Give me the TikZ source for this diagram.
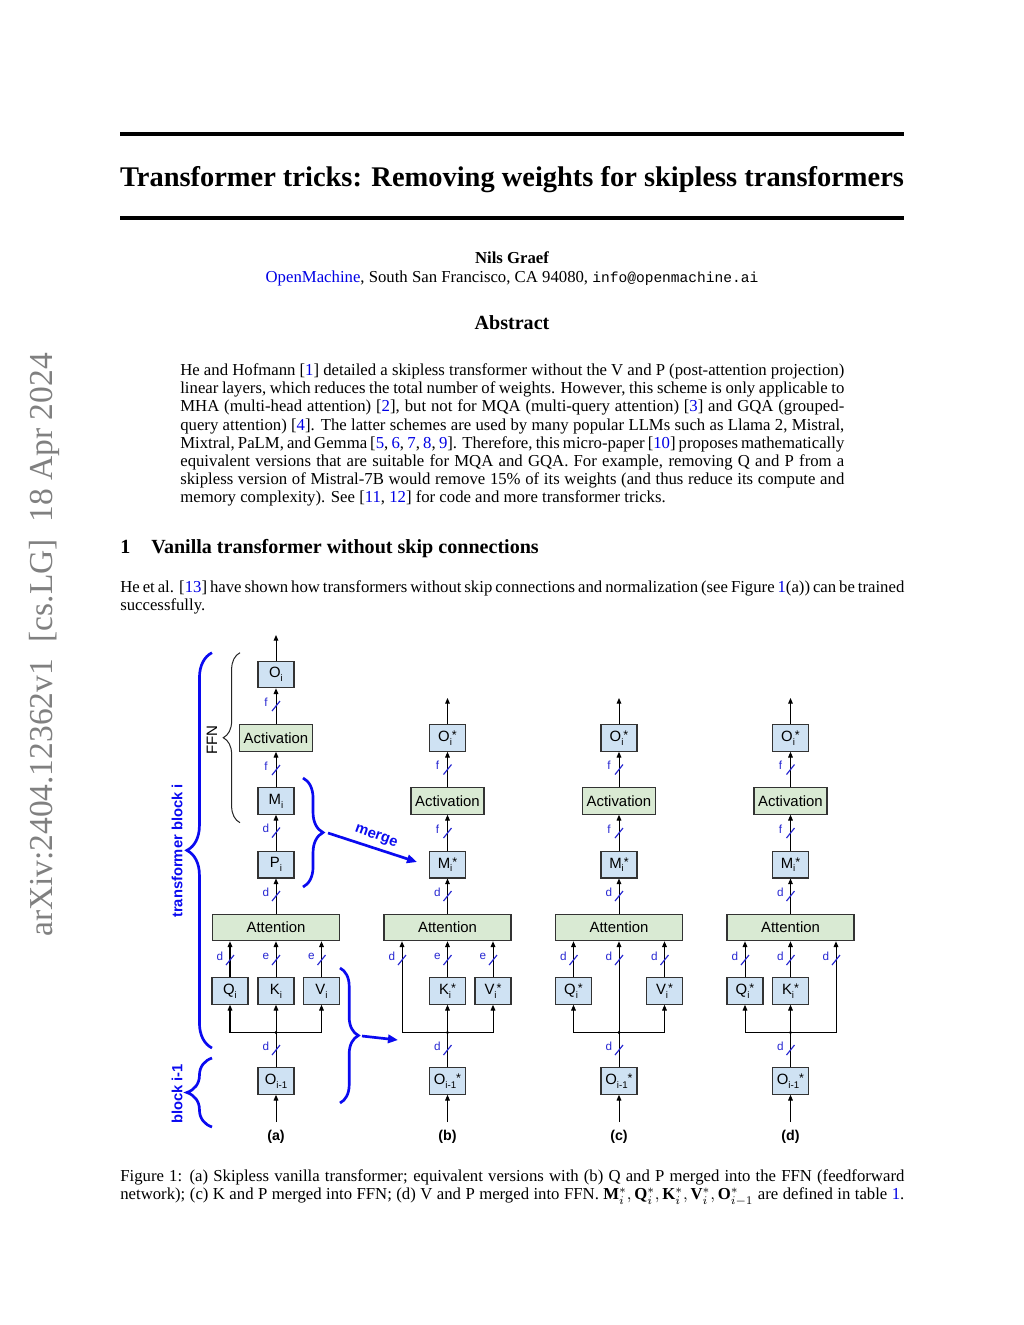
\documentclass[tikz,border=0pt]{standalone}
\usepackage{fontspec}
\setmainfont{Liberation Serif}
\setmonofont{Liberation Mono}
\newfontfamily\arialf{Liberation Sans}
\usetikzlibrary{arrows.meta,decorations.pathreplacing}
\definecolor{boxblue}{RGB}{207,226,243}
\definecolor{boxgreen}{RGB}{217,234,211}
\definecolor{linkblue}{RGB}{0,0,230}
\definecolor{busblue}{RGB}{40,40,210}
\definecolor{bracblue}{RGB}{10,10,240}
\newcommand\cbl[1]{\textcolor{linkblue}{#1}}
\newcommand\sbi[1]{\raisebox{-0.5ex}{\fontsize{5.8}{6}\selectfont #1}}
\newcommand\spx{\raisebox{0.25ex}{\fontsize{7.5}{8}\selectfont *}}
\newcommand\jabs[1]{\hbox to 396.85pt{#1}}
\newcommand\jbody[1]{\hbox to 468.6pt{#1}}
\begin{document}
\begin{tikzpicture}[x=0.59766pt,y=-0.59766pt,
  bx/.style={draw=black!80,line width=0.7pt,fill=boxblue,minimum width=21.5pt,minimum height=15.8pt,inner sep=0pt,font=\arialf\fontsize{8.9}{10}\selectfont},
  gx/.style={bx,fill=boxgreen},
  actw/.style={minimum width=43.6pt},
  attw/.style={minimum width=75.9pt},
  arr/.style={line width=0.6pt,-{Triangle[length=3.4pt,width=2.8pt]}},
  ln/.style={line width=0.6pt},
  bbrace/.style={decorate,decoration={brace,amplitude=#1},draw=bracblue,line width=1.6pt},
  kbrace/.style={decorate,decoration={brace,amplitude=#1},draw=black!85,line width=0.6pt},
  barrow/.style={draw=bracblue,line width=1.6pt,-{Triangle[length=6pt,width=5pt]}},
  blbl/.style={text=bracblue,font=\arialf\bfseries\fontsize{8.8}{10}\selectfont,inner sep=0pt},
  sublbl/.style={font=\arialf\bfseries\fontsize{8.5}{10}\selectfont,inner sep=0pt},
  txt/.style={anchor=base west,inner sep=0pt},
  bus/.pic={\draw[busblue,line width=0.7pt] (-4,5) -- (4,-5);
            \node[text=busblue,font=\arialf\fontsize{7}{8}\selectfont,inner sep=0pt] at (-10,-4) {#1};}
]
\useasboundingbox (0,0) rectangle (1024,1325);
\fill[white] (0,0) rectangle (1024,1325);

% ---------- page text ----------
\node[rotate=90,text=black!50,font=\fontsize{20}{24}\selectfont,inner sep=0pt] (arx) at (44,645) {arXiv:2404.12362v1\hspace{0.5em}[cs.LG]\hspace{0.5em}18 Apr 2024};

\draw[line width=2.4pt] (120,134) -- (904,134);
\node[anchor=base,inner sep=0pt,font=\fontsize{17}{20}\selectfont\bfseries] (title) at (512,186.5) {Transformer tricks: Removing weights for skipless transformers};
\draw[line width=2.4pt] (120,218) -- (904,218);

\node[anchor=base,inner sep=0pt,font=\bfseries] (auth) at (512,263.5) {Nils Graef};
\node[anchor=base,inner sep=0pt] (affil) at (512,282.5) {\cbl{OpenMachine}, South San Francisco, CA 94080, {\fontsize{8.7}{10}\selectfont\ttfamily info@openmachine.ai}};
\node[anchor=base,inner sep=0pt,font=\fontsize{12}{14}\selectfont\bfseries] (abst) at (512,329) {Abstract};

\node[txt] (ab1) at (180,375.5) {\jabs{He and Hofmann [\cbl{1}] detailed a skipless transformer without the V and P (post-attention projection)}};
\node[txt] (ab2) at (180,393.7) {\jabs{linear layers, which reduces the total number of weights. However, this scheme is only applicable to}};
\node[txt] (ab3) at (180,411.9) {\jabs{MHA (multi-head attention) [\cbl{2}], but not for MQA (multi-query attention) [\cbl{3}] and GQA (grouped-}};
\node[txt] (ab4) at (180,430.1) {\jabs{query attention) [\cbl{4}]. The latter schemes are used by many popular LLMs such as Llama 2, Mistral,}};
\node[txt] (ab5) at (180,448.3) {\jabs{Mixtral, PaLM, and Gemma [\cbl{5}, \cbl{6}, \cbl{7}, \cbl{8}, \cbl{9}]. Therefore, this micro-paper [\cbl{10}] proposes mathematically}};
\node[txt] (ab6) at (180,466.5) {\jabs{equivalent versions that are suitable for MQA and GQA. For example, removing Q and P from a}};
\node[txt] (ab7) at (180,484.7) {\jabs{skipless version of Mistral-7B would remove 15\% of its weights (and thus reduce its compute and}};
\node[txt] (ab8) at (180,502.9) {memory complexity). See [\cbl{11}, \cbl{12}] for code and more transformer tricks.};

\node[txt,font=\fontsize{12}{14}\selectfont\bfseries] (secn) at (120,553) {1};
\node[txt,font=\fontsize{12}{14}\selectfont\bfseries] (sect) at (151,553) {Vanilla transformer without skip connections};

\node[txt] (bd1) at (120,592.5) {\jbody{He et al. [\cbl{13}] have shown how transformers without skip connections and normalization (see Figure \cbl{1}(a)) can be trained}};
\node[txt] (bd2) at (120,610.7) {successfully.};

\node[txt] (cap1) at (120,1181.5) {\jbody{Figure 1: (a) Skipless vanilla transformer; equivalent versions with (b) Q and P merged into the FFN (feedforward}};
\node[txt] (cap2) at (120,1199.7) {\jbody{network); (c) K and P merged into FFN; (d) V and P merged into FFN. \smash{$\mathbf{M}_i^*, \mathbf{Q}_i^*, \mathbf{K}_i^*, \mathbf{V}_i^*, \mathbf{O}_{i-1}^*$} are defined in table \cbl{1}.}};

% ---------- column (a) ----------
\node[bx] (Oa) at (276,674.5) {O\sbi{i}};
\node[gx,actw] (Acta) at (276,738) {Activation};
\node[bx] (Ma) at (276,801) {M\sbi{i}};
\node[bx] (Pa) at (276,864.7) {P\sbi{i}};
\node[gx,attw] (Atta) at (276,927.5) {Attention};
\node[bx] (Qa) at (230,991) {Q\sbi{i}};
\node[bx] (Ka) at (276,991) {K\sbi{i}};
\node[bx] (Va) at (321.5,991) {V\sbi{i}};
\node[bx] (Oma) at (276,1081) {O\sbi{i-1}};
\coordinate (topa) at (276,635);
\coordinate (bota) at (276,1122);
\coordinate (ja) at (276,1032.5);
\draw[arr] (Oa) -- (topa);
\draw[arr] (Acta) -- (Oa);
\draw[arr] (Ma) -- (Acta);
\draw[arr] (Pa) -- (Ma);
\draw[arr] (Atta) -- (Pa);
\draw[arr] (Qa) -- (Qa |- Atta.south);
\draw[arr] (Ka) -- (Atta);
\draw[arr] (Va) -- (Va |- Atta.south);
\draw[arr] (bota) -- (Oma);
\draw[ln] (Oma) -- (ja);
\draw[arr] (ja) -- (Ka);
\draw[arr] (ja) -| (Qa);
\draw[arr] (ja) -| (Va);
\fill (ja) circle[radius=1pt];
\pic at (276,706) {bus=f};
\pic at (276,770) {bus=f};
\pic at (276,832.5) {bus=d};
\pic at (276,896) {bus=d};
\pic at (230,960) {bus=d};
\pic at (276,960) {bus=e};
\pic at (321.5,960) {bus=e};
\pic at (276,1050) {bus=d};
\node[sublbl] (la) at (276,1137) {(a)};

% ---------- column (b) ----------
\node[bx] (Ob) at (447.5,738) {O\sbi{i}\spx};
\node[gx,actw] (Actb) at (447.5,801) {Activation};
\node[bx] (Mb) at (447.5,864.7) {M\sbi{i}\spx};
\node[gx,attw] (Attb) at (447.5,927.5) {Attention};
\node[bx] (Kb) at (447.5,991) {K\sbi{i}\spx};
\node[bx] (Vb) at (493,991) {V\sbi{i}\spx};
\node[bx] (Omb) at (447.5,1081) {O\sbi{i-1}\spx};
\coordinate (topb) at (447.5,698);
\coordinate (botb) at (447.5,1122);
\coordinate (jb) at (447.5,1032.5);
\coordinate (jbL) at (402,1032.5);
\draw[arr] (Ob) -- (topb);
\draw[arr] (Actb) -- (Ob);
\draw[arr] (Mb) -- (Actb);
\draw[arr] (Attb) -- (Mb);
\draw[arr] (Kb) -- (Attb);
\draw[arr] (Vb) -- (Vb |- Attb.south);
\draw[arr] (botb) -- (Omb);
\draw[ln] (Omb) -- (jb);
\draw[arr] (jb) -- (Kb);
\draw[arr] (jb) -| (Vb);
\draw[arr] (jb) -- (jbL) -- (jbL |- Attb.south);
\fill (jb) circle[radius=1pt];
\pic at (447.5,769.5) {bus=f};
\pic at (447.5,833) {bus=f};
\pic at (447.5,896) {bus=d};
\pic at (402,960) {bus=d};
\pic at (447.5,960) {bus=e};
\pic at (493,960) {bus=e};
\pic at (447.5,1050) {bus=d};
\node[sublbl] (lb) at (447.5,1137) {(b)};

% ---------- column (c) ----------
\node[bx] (Oc) at (619,738) {O\sbi{i}\spx};
\node[gx,actw] (Actc) at (619,801) {Activation};
\node[bx] (Mc) at (619,864.7) {M\sbi{i}\spx};
\node[gx,attw] (Attc) at (619,927.5) {Attention};
\node[bx] (Qc) at (573.5,991) {Q\sbi{i}\spx};
\node[bx] (Vc) at (664.5,991) {V\sbi{i}\spx};
\node[bx] (Omc) at (619,1081) {O\sbi{i-1}\spx};
\coordinate (topc) at (619,698);
\coordinate (botc) at (619,1122);
\coordinate (jc) at (619,1032.5);
\draw[arr] (Oc) -- (topc);
\draw[arr] (Actc) -- (Oc);
\draw[arr] (Mc) -- (Actc);
\draw[arr] (Attc) -- (Mc);
\draw[arr] (Qc) -- (Qc |- Attc.south);
\draw[arr] (Vc) -- (Vc |- Attc.south);
\draw[arr] (botc) -- (Omc);
\draw[ln] (Omc) -- (jc);
\draw[arr] (jc) -- (Attc);
\draw[arr] (jc) -| (Qc);
\draw[arr] (jc) -| (Vc);
\fill (jc) circle[radius=1pt];
\pic at (619,769.5) {bus=f};
\pic at (619,833) {bus=f};
\pic at (619,896) {bus=d};
\pic at (573.5,960) {bus=d};
\pic at (619,960) {bus=d};
\pic at (664.5,960) {bus=d};
\pic at (619,1050) {bus=d};
\node[sublbl] (lc) at (619,1137) {(c)};

% ---------- column (d) ----------
\node[bx] (Od) at (790.5,738) {O\sbi{i}\spx};
\node[gx,actw] (Actd) at (790.5,801) {Activation};
\node[bx] (Md) at (790.5,864.7) {M\sbi{i}\spx};
\node[gx,attw] (Attd) at (790.5,927.5) {Attention};
\node[bx] (Qd) at (745,991) {Q\sbi{i}\spx};
\node[bx] (Kd) at (790.5,991) {K\sbi{i}\spx};
\node[bx] (Omd) at (790.5,1081) {O\sbi{i-1}\spx};
\coordinate (topd) at (790.5,698);
\coordinate (botd) at (790.5,1122);
\coordinate (jd) at (790.5,1032.5);
\coordinate (jdR) at (836,1032.5);
\draw[arr] (Od) -- (topd);
\draw[arr] (Actd) -- (Od);
\draw[arr] (Md) -- (Actd);
\draw[arr] (Attd) -- (Md);
\draw[arr] (Qd) -- (Qd |- Attd.south);
\draw[arr] (Kd) -- (Attd);
\draw[arr] (botd) -- (Omd);
\draw[ln] (Omd) -- (jd);
\draw[arr] (jd) -- (Kd);
\draw[arr] (jd) -| (Qd);
\draw[arr] (jd) -- (jdR) -- (jdR |- Attd.south);
\fill (jd) circle[radius=1pt];
\pic at (790.5,769.5) {bus=f};
\pic at (790.5,833) {bus=f};
\pic at (790.5,896) {bus=d};
\pic at (745,960) {bus=d};
\pic at (790.5,960) {bus=d};
\pic at (836,960) {bus=d};
\pic at (790.5,1050) {bus=d};
\node[sublbl] (ld) at (790.5,1137) {(d)};

% ---------- braces and labels ----------
\draw[kbrace=10pt] (240,822.7) -- (240,652.7);
\node[rotate=90,inner sep=0pt,font=\arialf\fontsize{9}{10}\selectfont] (ffn) at (212,740) {FFN};

\draw[bbrace=15pt] (212,1048) -- (212,652.7);
\node[blbl,rotate=90] (tbi) at (177,851) {transformer block i};
\draw[bbrace=15pt] (212,1127) -- (212,1058);
\node[blbl,rotate=90] (bim) at (177,1094) {block i-1};

\draw[bbrace=12pt] (303,778) -- (303,887);
\coordinate (mg1) at (328,833);
\coordinate (mg2) at (417,862);
\draw[barrow] (mg1) -- (mg2);
\node[blbl,rotate=-20] (merge) at (376,837) {merge};

\draw[bbrace=11pt] (340,968) -- (340,1103);
\coordinate (qk1) at (362,1036);
\coordinate (qk2) at (398,1040);
\draw[barrow] (qk1) -- (qk2);
\end{tikzpicture}
\end{document}
